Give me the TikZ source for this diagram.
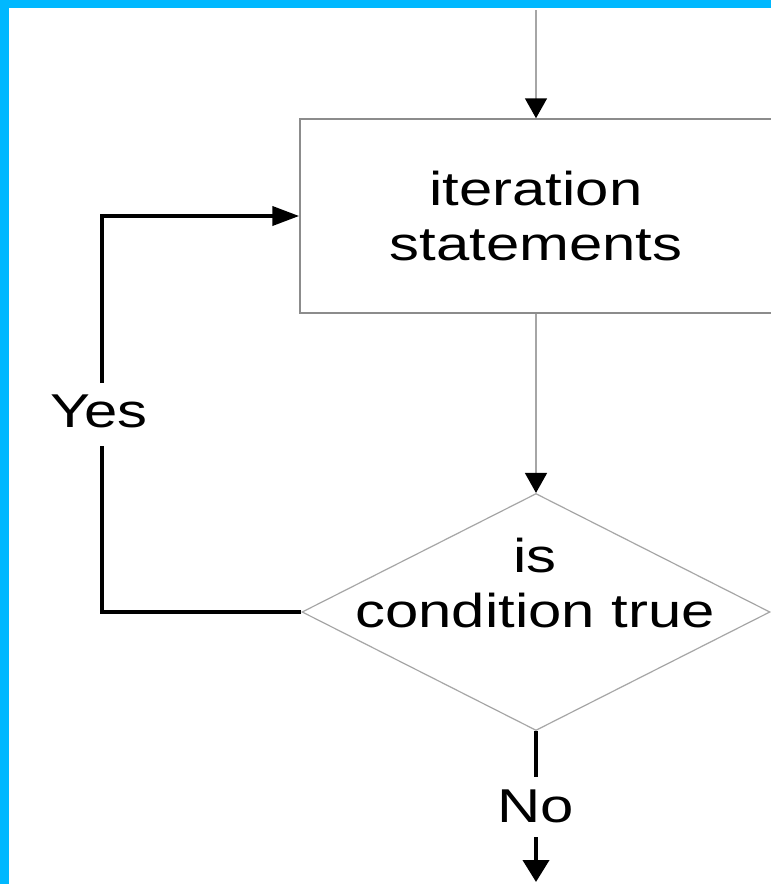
\documentclass[tikz,border=0pt]{standalone}
\usepackage{fontspec}
\setmainfont{Liberation Sans}[FakeStretch=1.26]
\usetikzlibrary{arrows.meta,shapes.geometric}
\definecolor{frameblue}{HTML}{00B8FF}
\definecolor{boxgray}{HTML}{8C8C8C}
\definecolor{linegray}{HTML}{A6A6A6}
\tikzset{
  txt/.style={font=\fontsize{47.5}{55}\selectfont, inner sep=0pt, align=center, text=black},
  boxnode/.style={rectangle, draw=boxgray, line width=1.5pt, minimum width=472pt, minimum height=194pt, inner sep=0pt, txt},
  decnode/.style={diamond, draw=linegray, line width=1.2pt, minimum width=468pt, minimum height=237pt, inner sep=0pt},
  thinline/.style={draw=linegray, line width=1.6pt},
  boldline/.style={draw=black, line width=4pt},
  vtip/.style={-{Triangle[length=20pt,width=22pt,color=black]}},
  htip/.style={-{Triangle[length=27pt,width=19pt,color=black]}},
  ntip/.style={-{Triangle[length=22pt,width=26pt,color=black]}}
}
\begin{document}
\begin{tikzpicture}[x=1pt,y=-1pt]
\useasboundingbox (0,0) rectangle (771,884);
\fill[white] (0,0) rectangle (771,884);
% frame
\fill[frameblue] (0,0) rectangle (9,884);
\fill[frameblue] (0,0) rectangle (771,8);
% nodes
\node[boxnode] (r) at (536,216) {iteration\\statements};
\node[decnode] (d) at (536,612) {};
\node[txt] (dt) at (535,583) {is\\condition true};
\node[txt] (yes) at (99,411) {Yes};
\node[txt] (no) at (536,806) {No};
% coordinates
\coordinate (top) at (536,10);
\coordinate (ya) at (102,446);
\coordinate (yb) at (102,383);
\coordinate (na) at (536,777);
\coordinate (nb) at (536,837);
\coordinate (nc) at (536,882);
% connectors
\draw[thinline, vtip] (top) -- (r.north);
\draw[thinline, vtip] (r.south) -- (d.north);
\draw[boldline] (d.west) -| (ya);
\draw[boldline, htip] (yb) |- (r.west);
\draw[boldline] (d.south) -- (na);
\draw[boldline, ntip] (nb) -- (nc);
\end{tikzpicture}
\end{document}
